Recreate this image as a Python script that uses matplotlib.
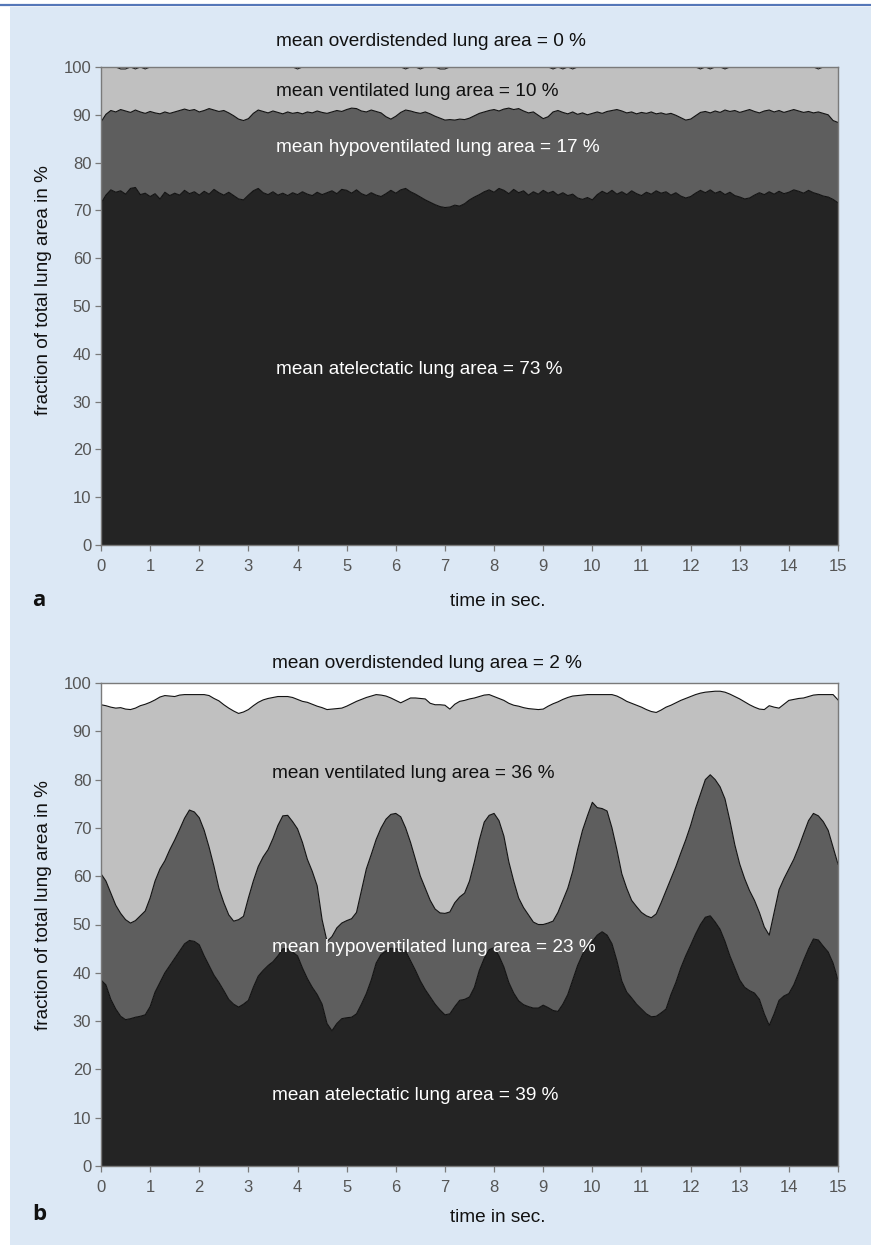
import numpy as np
import matplotlib
matplotlib.use("Agg")
import matplotlib.pyplot as plt
from matplotlib.patches import Rectangle
from matplotlib.lines import Line2D

# ---------------- data ----------------
time_s = np.linspace(0, 15, 151)

# panel a: cumulative boundaries (% of total lung area)
a_atelectatic = [
    71.5, 73.2, 74.3, 73.8, 74.1, 73.4, 74.6, 74.8, 73.3, 73.6,
    72.9, 73.5, 72.4, 73.8, 73.1, 73.6, 73.2, 74.2, 73.5, 73.9,
    73.2, 74.0, 73.4, 74.4, 73.7, 73.2, 73.8, 73.1, 72.4, 72.2,
    73.2, 74.1, 74.6, 73.7, 73.3, 73.9, 73.2, 73.6, 73.1, 73.7,
    73.3, 73.9, 73.4, 73.1, 73.8, 73.3, 73.7, 74.1, 73.5, 74.4,
    74.2, 73.6, 74.3, 73.5, 73.1, 73.7, 73.2, 72.9, 73.5, 74.2,
    73.6, 74.3, 74.6, 73.9, 73.4, 72.8, 72.2, 71.7, 71.2, 70.8,
    70.6, 70.7, 71.1, 70.9, 71.4, 72.2, 72.8, 73.3, 73.9, 74.3,
    73.8, 74.6, 74.2, 73.5, 74.4, 73.7, 74.1, 73.2, 73.9, 73.4,
    74.2, 73.6, 74.0, 73.2, 73.7, 73.1, 73.4, 72.6, 72.3, 72.7,
    72.2, 73.3, 74.0, 73.5, 74.2, 73.4, 73.9, 73.3, 74.1, 73.5,
    73.1, 73.8, 73.4, 74.1, 73.6, 73.9, 73.2, 73.7, 73.0, 72.6,
    72.9, 73.6, 74.2, 73.7, 74.3, 73.6, 74.0, 73.3, 73.8, 73.1,
    72.8, 72.4, 72.6, 73.2, 73.7, 73.3, 73.9, 73.4, 74.0, 73.5,
    73.8, 74.3, 74.0, 73.6, 74.2, 73.7, 73.4, 73.0, 72.8, 72.3,
    71.6,
]
a_hypo_top = [
    88.5, 90.1, 90.9, 90.6, 91.1, 90.8, 90.5, 91.0, 90.6, 90.3,
    90.7, 90.4, 90.2, 90.6, 90.3, 90.6, 90.9, 91.2, 90.9, 91.1,
    90.6, 90.9, 91.3, 91.0, 90.7, 90.9, 90.4, 89.8, 89.1, 88.8,
    89.2, 90.3, 91.0, 90.7, 90.4, 90.8, 90.5, 90.2, 90.6, 90.3,
    90.5, 90.2, 90.6, 90.4, 90.8, 90.5, 90.3, 90.6, 90.9, 90.7,
    91.1, 91.4, 91.3, 90.8, 90.6, 91.0, 90.7, 90.4, 89.6, 89.1,
    89.7, 90.5, 91.0, 90.8, 90.5, 90.3, 90.6, 90.2, 89.7, 89.3,
    88.9, 89.0, 88.9, 89.1, 89.0, 89.3, 89.8, 90.3, 90.6, 90.9,
    91.1, 90.8, 91.2, 91.4, 91.1, 91.3, 90.8, 90.4, 90.6, 89.9,
    89.2, 89.6, 90.6, 90.9, 90.5, 90.2, 90.6, 90.1, 90.4, 90.0,
    90.3, 90.6, 90.3, 90.7, 90.9, 91.1, 90.8, 90.4, 90.6, 90.2,
    90.5, 90.3, 90.6, 90.2, 90.4, 90.1, 90.3, 89.9, 89.4, 88.9,
    89.1, 89.8, 90.5, 90.7, 90.4, 90.8, 90.5, 91.0, 90.7, 90.9,
    90.5, 90.8, 91.1, 90.7, 90.4, 90.8, 91.0, 90.6, 90.9, 90.5,
    90.8, 91.1, 90.8, 90.5, 90.7, 90.4, 90.6, 90.3, 90.0, 88.8,
    88.4,
]
a_vent_top = [
    100, 100, 100, 100, 99.6, 99.6, 100, 99.6, 100, 99.6,
    100, 100, 100, 100, 100, 100, 100, 100, 100, 100,
    100, 100, 100, 100, 100, 100, 100, 100, 100, 100,
    100, 100, 100, 100, 100, 100, 100, 100, 100, 100,
    99.6, 100, 100, 100, 100, 100, 100, 100, 100, 100,
    100, 100, 100, 100, 100, 100, 100, 100, 100, 100,
    100, 100, 99.6, 100, 100, 99.6, 100, 100, 100, 99.6,
    99.6, 100, 100, 100, 100, 100, 100, 100, 100, 100,
    100, 100, 100, 100, 100, 100, 100, 100, 100, 100,
    100, 100, 99.6, 100, 99.6, 100, 99.6, 100, 100, 100,
    100, 100, 100, 100, 100, 100, 100, 100, 100, 100,
    100, 100, 100, 100, 100, 100, 100, 100, 100, 100,
    100, 100, 99.6, 100, 99.6, 100, 100, 99.6, 100, 100,
    100, 100, 100, 100, 100, 100, 100, 100, 100, 100,
    100, 100, 100, 100, 100, 100, 99.6, 100, 100, 100,
    100,
]

# panel b: cumulative boundaries (% of total lung area)
b_atelectatic = [
    38.5, 37.5, 34.5, 32.5, 31.0, 30.3, 30.5, 30.8, 31.0, 31.3,
    33.0, 36.0, 38.0, 40.0, 41.5, 43.0, 44.5, 46.0, 46.7, 46.5,
    45.8, 43.5, 41.5, 39.5, 38.0, 36.3, 34.5, 33.5, 32.9, 33.5,
    34.3, 37.0, 39.3, 40.5, 41.5, 42.3, 43.5, 45.0, 45.0, 44.3,
    43.5, 41.0, 38.8, 37.0, 35.5, 33.5, 29.5, 28.0, 29.5, 30.5,
    30.7, 30.8, 31.5, 33.5, 35.7, 38.5, 42.0, 43.8, 44.5, 45.1,
    45.0, 44.8, 44.5, 42.5, 40.5, 38.3, 36.5, 35.0, 33.5, 32.3,
    31.3, 31.5, 33.0, 34.3, 34.5, 35.0, 37.0, 40.5, 43.0, 44.8,
    45.2, 43.5, 41.2, 38.0, 35.8, 34.2, 33.4, 33.0, 32.7, 32.7,
    33.3, 32.8, 32.2, 32.0, 33.5, 35.5, 38.5, 41.5, 43.8, 45.5,
    46.5, 47.8, 48.5, 47.8, 46.0, 42.5, 38.3, 36.0, 34.8, 33.5,
    32.5, 31.5, 30.9, 31.0, 31.7, 32.5, 35.5, 38.0, 41.0, 43.5,
    45.7, 48.0, 50.0, 51.5, 51.8, 50.5, 49.0, 46.5, 43.5, 41.0,
    38.5, 37.0, 36.3, 35.8, 34.5, 31.5, 29.1, 31.5, 34.3, 35.2,
    35.7, 37.5, 40.0, 42.6, 45.0, 47.0, 46.8, 45.5, 44.3, 42.0,
    38.5,
]
b_hypo_top = [
    60.5, 59.0, 56.5, 54.0, 52.3, 51.0, 50.3, 50.8, 51.8, 52.8,
    55.5, 59.0, 61.5, 63.2, 65.5, 67.5, 69.7, 72.0, 73.7, 73.3,
    72.1, 69.5, 66.0, 62.0, 57.5, 54.5, 52.0, 50.7, 51.0, 51.7,
    55.5, 59.0, 62.0, 64.0, 65.5, 67.8, 70.5, 72.5, 72.6, 71.3,
    69.8, 67.0, 63.5, 61.0, 58.0, 51.0, 46.5, 47.5, 49.3, 50.3,
    50.8, 51.2, 52.5, 57.0, 61.5, 64.5, 67.6, 70.0, 71.8, 72.8,
    73.0, 72.3, 70.0, 67.0, 63.5, 60.0, 57.5, 55.0, 53.2, 52.4,
    52.3, 52.6, 54.5, 55.7, 56.5, 59.0, 63.0, 67.5, 71.2, 72.6,
    73.0, 71.5, 68.3, 63.0, 59.0, 55.5, 53.5, 52.0, 50.5, 50.0,
    50.0, 50.3, 50.7, 52.5, 55.0, 57.5, 61.0, 65.5, 69.5, 72.5,
    75.3, 74.2, 74.0, 73.5, 70.0, 65.5, 60.5, 57.5, 55.0, 53.7,
    52.5, 51.8, 51.4, 52.2, 54.5, 57.0, 59.5, 62.0, 64.8, 67.5,
    70.5, 74.0, 77.0, 80.0, 81.0, 80.0, 78.5, 76.0, 71.5, 66.5,
    62.5, 59.5, 57.0, 55.0, 52.5, 49.5, 47.8, 52.5, 57.2, 59.5,
    61.5, 63.5, 66.0, 68.8, 71.5, 73.0, 72.5, 71.3, 69.5, 66.0,
    62.5,
]
b_vent_top = [
    95.5, 95.3, 95.0, 94.8, 94.9, 94.6, 94.5, 94.8, 95.3, 95.6,
    96.0, 96.5, 97.1, 97.4, 97.3, 97.2, 97.5, 97.6, 97.6, 97.6,
    97.6, 97.6, 97.4, 96.8, 96.3, 95.5, 94.8, 94.2, 93.7, 94.0,
    94.5, 95.3, 96.0, 96.5, 96.8, 97.0, 97.2, 97.2, 97.2, 97.0,
    96.6, 96.2, 96.0, 95.6, 95.2, 94.9, 94.5, 94.6, 94.7, 94.8,
    95.2, 95.7, 96.2, 96.6, 97.0, 97.3, 97.6, 97.5, 97.3, 96.9,
    96.4, 95.9, 96.4, 96.9, 96.9, 96.8, 96.7, 95.8, 95.5, 95.5,
    95.4, 94.6, 95.6, 96.2, 96.4, 96.7, 96.9, 97.2, 97.5, 97.6,
    97.2, 96.8, 96.4, 95.8, 95.4, 95.2, 94.9, 94.7, 94.6, 94.5,
    94.6, 95.2, 95.7, 96.1, 96.6, 97.0, 97.3, 97.4, 97.5, 97.6,
    97.6, 97.6, 97.6, 97.6, 97.6, 97.3, 96.8, 96.2, 95.8, 95.4,
    95.0, 94.5, 94.1, 93.9, 94.4, 95.0, 95.4, 95.9, 96.4, 96.8,
    97.2, 97.6, 97.9, 98.1, 98.2, 98.3, 98.3, 98.1, 97.7, 97.2,
    96.7, 96.1, 95.5, 95.0, 94.6, 94.5, 95.3, 95.0, 94.8, 95.6,
    96.4, 96.6, 96.8, 96.9, 97.2, 97.5, 97.6, 97.6, 97.6, 97.6,
    96.5,
]

layer_names = ["atelectatic", "hypoventilated", "ventilated", "overdistended"]
layer_colors = ["#242424", "#5e5e5e", "#c0c0c0", "#ffffff"]
y_ticks = [0, 10, 20, 30, 40, 50, 60, 70, 80, 90, 100]
x_ticks = list(range(16))

panel_letters = ["a", "b"]
titles = ["mean overdistended lung area = 0 %", "mean overdistended lung area = 2 %"]
vent_labels = ["mean ventilated lung area = 10 %", "mean ventilated lung area = 36 %"]
hypo_labels = ["mean hypoventilated lung area = 17 %", "mean hypoventilated lung area = 23 %"]
atel_labels = ["mean atelectatic lung area = 73 %", "mean atelectatic lung area = 39 %"]

# ---------------- figure ----------------
W, H = 871, 1245
plt.rcParams["font.family"] = ["Liberation Sans", "DejaVu Sans"]
fig = plt.figure(figsize=(W / 100, H / 100), dpi=100)
fig.patch.set_facecolor("white")

# light blue page background + blue top rule
fig.patches.append(Rectangle((10 / W, 0), 1 - 10 / W, 1 - 7 / H,
                             transform=fig.transFigure, facecolor="#dce8f5",
                             edgecolor="none", zorder=-10))
fig.lines.append(Line2D([0, 1], [1 - 5 / H, 1 - 5 / H], transform=fig.transFigure,
                        color="#5577b8", linewidth=1.6, zorder=-5))


def px_x(x):
    return x / W


def px_y(y):
    return 1 - y / H


panels = [
    dict(top=67, bottom=545, atel=a_atelectatic, hypo=a_hypo_top, vent=a_vent_top,
         text_x=276, title_y=42, vent_y=92, hypo_y=148, atel_y=370,
         xlabel_y=602, ylabel_y=290, letter_y=601),
    dict(top=683, bottom=1166, atel=b_atelectatic, hypo=b_hypo_top, vent=b_vent_top,
         text_x=272, title_y=664, vent_y=774, hypo_y=947, atel_y=1095,
         xlabel_y=1217, ylabel_y=905, letter_y=1215),
]

left, right = 101, 838
fs = 13.7
for i, p in enumerate(panels):
    ax = fig.add_axes([px_x(left), px_y(p["bottom"]), (right - left) / W,
                       (p["bottom"] - p["top"]) / H])
    atel = np.array(p["atel"])
    hypo_top = np.array(p["hypo"])
    vent_top = np.array(p["vent"])
    layers = [atel, hypo_top - atel, vent_top - hypo_top, 100 - vent_top]
    ax.stackplot(time_s, *layers, colors=layer_colors, linewidth=0, labels=layer_names)
    for b in (atel, hypo_top, vent_top):
        ax.plot(time_s, b, color="#111111", linewidth=0.8)
    ax.set_xlim(0, 15)
    ax.set_ylim(0, 100)
    ax.set_xticks(x_ticks)
    ax.set_yticks(y_ticks)
    ax.set_facecolor("white")
    for s in ax.spines.values():
        s.set_color("#7a7a7a")
        s.set_linewidth(1.0)
    ax.tick_params(axis="both", direction="out", length=4, width=0.9,
                   color="#7a7a7a", labelcolor="#555555", labelsize=12)
    ax.tick_params(axis="x", pad=6)
    ax.tick_params(axis="y", pad=3)

    fig.text(px_x(p["text_x"]), px_y(p["title_y"]), titles[i], fontsize=fs,
             color="#111111", ha="left", va="center")
    fig.text(px_x(p["text_x"]), px_y(p["vent_y"]), vent_labels[i], fontsize=fs,
             color="#111111", ha="left", va="center")
    fig.text(px_x(p["text_x"]), px_y(p["hypo_y"]), hypo_labels[i], fontsize=fs,
             color="white", ha="left", va="center")
    fig.text(px_x(p["text_x"]), px_y(p["atel_y"]), atel_labels[i], fontsize=fs,
             color="white", ha="left", va="center")
    fig.text(px_x(498), px_y(p["xlabel_y"]), "time in sec.", fontsize=fs,
             color="#111111", ha="center", va="center")
    fig.text(px_x(44), px_y(p["ylabel_y"]), "fraction of total lung area in %",
             fontsize=fs, color="#111111", ha="center", va="center", rotation=90)
    fig.text(px_x(39), px_y(p["letter_y"]), panel_letters[i], fontsize=16,
             fontweight="bold", family=["Open Sans", "DejaVu Sans"],
             color="#111111", ha="center", va="center")

fig.savefig("out.png", dpi=100, facecolor=fig.get_facecolor())
